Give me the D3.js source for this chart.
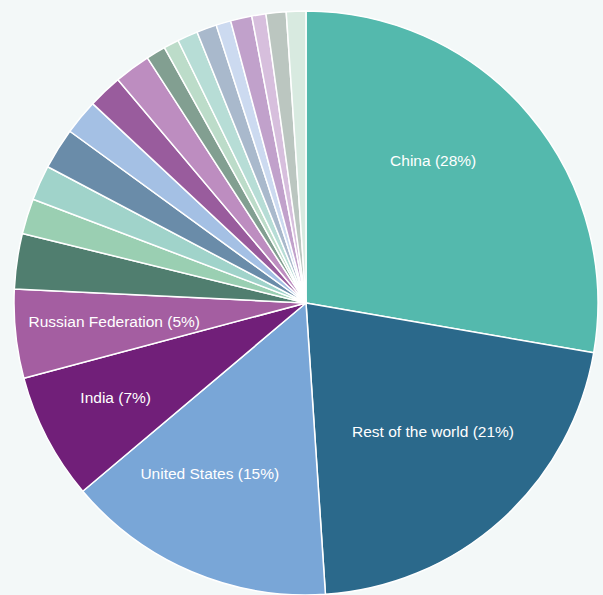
<!DOCTYPE html>
<html>
<head>
<meta charset="utf-8">
<script src="https://cdn.jsdelivr.net/npm/d3@7"></script>
<style>
    html, body { margin: 0; padding: 0; background: #f3f8f8; }
    svg { display: block; }
    .slice-label { font-family: "Liberation Sans", Arial, Helvetica, sans-serif; fill: #fff; }
</style>
</head>
<body>
<div id="chart"></div>
<script>
// share of world total (clockwise from 12 o'clock)
let countries = ["China", "Rest of the world", "United States", "India", "Russian Federation",
    "Japan", "Germany", "Iran", "South Korea", "Saudi Arabia", "Indonesia", "Canada",
    "Mexico", "South Africa", "Brazil", "Turkey", "Australia", "United Kingdom",
    "Poland", "France", "Italy"];
let shares = [27.7, 21.2, 14.9, 7.0, 4.9,
    3.06, 1.96, 1.94, 2.28, 1.95, 1.9, 2.0,
    1.08, 0.84, 1.13, 1.11, 0.82, 1.18,
    0.78, 1.11, 1.08];
let colors = ["#54b9ad", "#2b698b", "#79a6d7", "#711f79", "#a45ea1",
    "#507e6f", "#9acfb2", "#a0d3ca", "#6a8ca9", "#a4c0e4", "#995c9d", "#bd8dc0",
    "#829f91", "#bcdcc9", "#b7ddd6", "#a9b9cc", "#ccdaf0", "#c1a1cb",
    "#d7bfdd", "#bbc6c0", "#d8eae0"];
let labelMin = 4; // only slices of at least this % get a label

let config = {
    width: 603,
    height: 595,
    cx: 306,
    cy: 303,
    radius: 292,
    labelRadius: 0.65,
    // small nudges so labels sit where the original put them
    labelNudge: {
        "China": [-18, -20],
        "Rest of the world": [0, -12],
        "United States": [-22, -4],
        "India": [-22, 7],
        "Russian Federation": [-3, -2]
    }
};

let data = countries.map((c, i) => ({name: c, value: shares[i], color: colors[i]}));
let total = d3.sum(data, (d) => d.value);

let svg = d3.select("#chart")
    .append("svg")
    .attr("width", config.width)
    .attr("height", config.height);

let g = svg.append("g")
    .attr("transform", `translate(${config.cx},${config.cy})`);

let pie = d3.pie()
    .sort(null)
    .value((d) => d.value);

let arc = d3.arc()
    .innerRadius(0)
    .outerRadius(config.radius);

let labelArc = d3.arc()
    .innerRadius(config.radius * config.labelRadius)
    .outerRadius(config.radius * config.labelRadius);

let arcs = pie(data);

g.selectAll("path")
    .data(arcs)
    .enter().append("path")
    .attr("d", arc)
    .attr("fill", (d) => d.data.color)
    .attr("stroke", "#fff")
    .attr("stroke-width", 1.5)
    .attr("stroke-linejoin", "round");

function labelPos(d) {
    let c = labelArc.centroid(d);
    let n = config.labelNudge[d.data.name] || [0, 0];
    return [c[0] + n[0], c[1] + n[1]];
}

g.selectAll("text")
    .data(arcs.filter((d) => 100 * d.data.value / total >= labelMin))
    .enter().append("text")
    .attr("class", "slice-label")
    .attr("transform", (d) => `translate(${labelPos(d)})`)
    .attr("text-anchor", "middle")
    .attr("dy", "0.35em")
    .style("font-size", "15.5px")
    .text((d) => `${d.data.name} (${Math.round(100 * d.data.value / total)}%)`);
</script>
</body>
</html>
